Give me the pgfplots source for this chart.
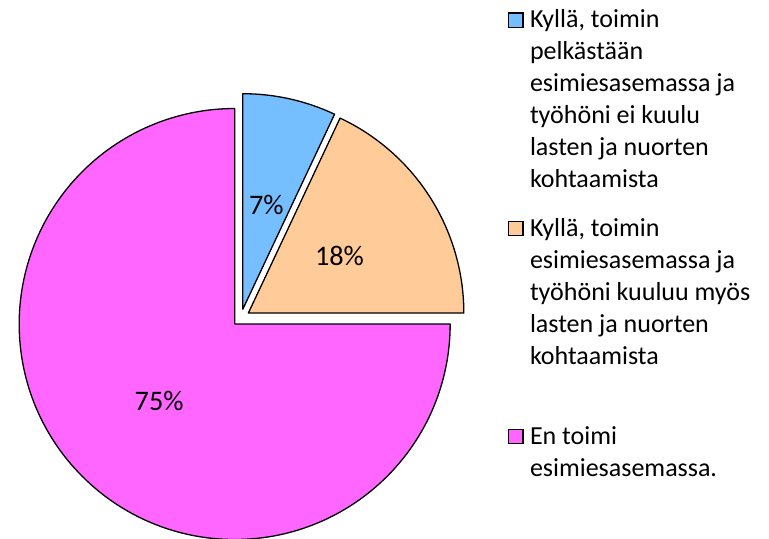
\documentclass[border=0pt]{standalone}
\usepackage{pgfplots}
\pgfplotsset{compat=1.18}
\usepackage{pgfplotstable}
\usepackage{fontspec}
\setmainfont{Carlito}

\definecolor{sliceA}{RGB}{117,190,255}
\definecolor{sliceB}{RGB}{255,204,153}
\definecolor{sliceC}{RGB}{255,102,255}

\pgfplotstableread{
share
7
18
75
}\piedata

\newcommand\ls{\rule[-8bp]{0pt}{32bp}}
\newcommand\lsA{\rule[-24.3bp]{0pt}{48.3bp}}
\newcommand\lsB{\rule[-56bp]{0pt}{80bp}}

\begin{document}
\begin{tikzpicture}
\pgfplotstablegetelem{0}{share}\of\piedata\edef\vA{\pgfplotsretval}
\pgfplotstablegetelem{1}{share}\of\piedata\edef\vB{\pgfplotsretval}
\pgfplotstablegetelem{2}{share}\of\piedata\edef\vC{\pgfplotsretval}
\pgfmathsetmacro\aA{90}
\pgfmathsetmacro\aB{\aA-3.6*\vA}
\pgfmathsetmacro\aC{\aB-3.6*\vB}
\pgfmathsetmacro\aD{\aC-3.6*\vC}
\def\cx{240.9}\def\cy{-317.8}\def\ex{8.8}\def\R{215.5bp}
\pgfmathsetmacro\xA{\cx+\ex*cos((\aA+\aB)/2)}\pgfmathsetmacro\yA{\cy+\ex*sin((\aA+\aB)/2)}
\pgfmathsetmacro\xB{\cx+\ex*cos((\aB+\aC)/2)}\pgfmathsetmacro\yB{\cy+\ex*sin((\aB+\aC)/2)}
\pgfmathsetmacro\xC{\cx+\ex*cos((\aC+\aD)/2)}\pgfmathsetmacro\yC{\cy+\ex*sin((\aC+\aD)/2)}
\begin{axis}[
  scale only axis, width=769bp, height=539bp,
  xmin=0, xmax=769, ymin=-539, ymax=0,
  hide axis, clip=false,
  every axis legend/.style={at={(0.65995,0.99314)}, anchor=north west,
    draw=none, fill=none, inner sep=0pt, row sep=0pt, column sep=6.5bp,
    cells={anchor=base west}, nodes={inner sep=0pt},
    font=\fontsize{26bp}{32bp}\selectfont},
]
\filldraw[fill=sliceA, draw=black, line width=1.3bp, line join=round]
  (axis cs:\xA,\yA) -- ++(\aA:\R) arc[start angle=\aA, end angle=\aB, radius=\R] -- cycle;
\filldraw[fill=sliceB, draw=black, line width=1.3bp, line join=round]
  (axis cs:\xB,\yB) -- ++(\aB:\R) arc[start angle=\aB, end angle=\aC, radius=\R] -- cycle;
\filldraw[fill=sliceC, draw=black, line width=1.3bp, line join=round]
  (axis cs:\xC,\yC) -- ++(\aC:\R) arc[start angle=\aC, end angle=\aD, radius=\R] -- cycle;

\node[anchor=base, font=\fontsize{28.3bp}{34bp}\selectfont] at (axis cs:266.3,-214.5) {\vA\%};
\node[anchor=base, font=\fontsize{28.3bp}{34bp}\selectfont] at (axis cs:339.5,-265.7) {\vB\%};
\node[anchor=base, font=\fontsize{28.3bp}{34bp}\selectfont] at (axis cs:159.2,-411) {\vC\%};

\addlegendimage{legend image code/.code={\draw[fill=sliceA,draw=black,line width=1.3bp] (0bp,0.5bp) rectangle (14.5bp,15bp);}}
\addlegendentry{\ls Kyllä, toimin}
\addlegendimage{legend image code/.code={}}\addlegendentry{\ls pelkästään}
\addlegendimage{legend image code/.code={}}\addlegendentry{\ls esimiesasemassa ja}
\addlegendimage{legend image code/.code={}}\addlegendentry{\ls työhöni ei kuulu}
\addlegendimage{legend image code/.code={}}\addlegendentry{\ls lasten ja nuorten}
\addlegendimage{legend image code/.code={}}\addlegendentry{\lsA kohtaamista}
\addlegendimage{legend image code/.code={\draw[fill=sliceB,draw=black,line width=1.3bp] (0bp,0.5bp) rectangle (14.5bp,15bp);}}
\addlegendentry{\ls Kyllä, toimin}
\addlegendimage{legend image code/.code={}}\addlegendentry{\ls esimiesasemassa ja}
\addlegendimage{legend image code/.code={}}\addlegendentry{\ls työhöni kuuluu myös}
\addlegendimage{legend image code/.code={}}\addlegendentry{\ls lasten ja nuorten}
\addlegendimage{legend image code/.code={}}\addlegendentry{\lsB kohtaamista}
\addlegendimage{legend image code/.code={\draw[fill=sliceC,draw=black,line width=1.3bp] (0bp,0.5bp) rectangle (14.5bp,15bp);}}
\addlegendentry{\ls En toimi}
\addlegendimage{legend image code/.code={}}\addlegendentry{\ls esimiesasemassa.}
\end{axis}
\pgfresetboundingbox
\path[use as bounding box] (current axis.south west) rectangle (current axis.north east);
\end{tikzpicture}
\end{document}
